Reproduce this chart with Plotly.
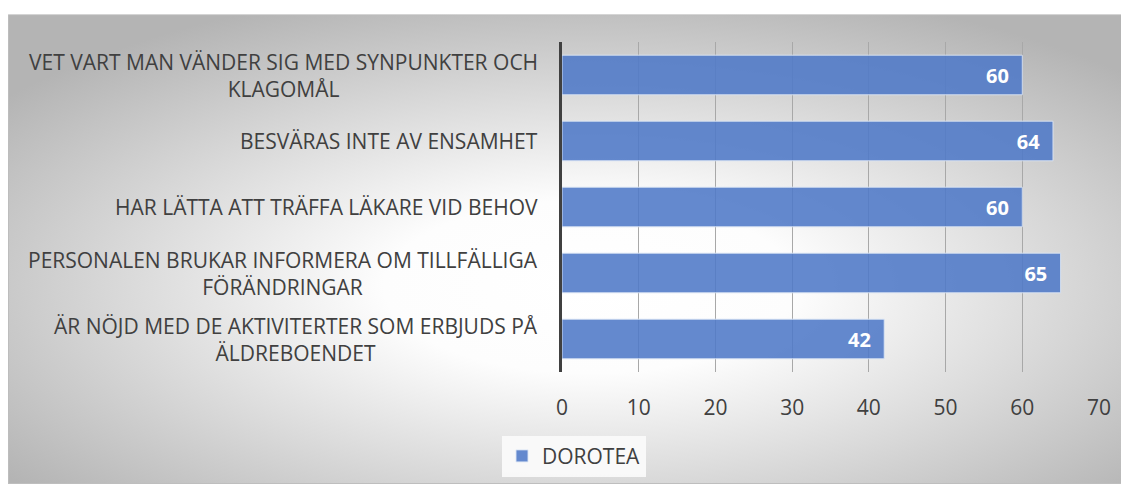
import base64
import plotly.graph_objects as go

categories = [
    "VET VART MAN VÄNDER SIG MED SYNPUNKTER OCH<br>KLAGOMÅL",
    "BESVÄRAS INTE AV ENSAMHET",
    "HAR LÄTTA ATT TRÄFFA LÄKARE VID BEHOV",
    "PERSONALEN BRUKAR INFORMERA OM TILLFÄLLIGA<br>FÖRÄNDRINGAR",
    "ÄR NÖJD MED DE AKTIVITERTER SOM ERBJUDS PÅ<br>ÄLDREBOENDET",
]
values = [60, 64, 60, 65, 42]
series_name = "DOROTEA"
x_ticks = [0, 10, 20, 30, 40, 50, 60, 70]

# page body has an 8px margin; figure is sized so it fits the window
W, H = 1121, 481
L, R, T, B = 554, 30, 34, 114
pw, ph = W - L - R, H - T - B

FONT = "Open Sans"
TXT = "#404040"

svg = (
    '<svg xmlns="http://www.w3.org/2000/svg" width="1120" height="474" '
    'viewBox="0 0 1120 474" preserveAspectRatio="none">'
    '<defs><radialGradient id="g" cx="0.52" cy="0.58" r="0.66">'
    '<stop offset="0" stop-color="#ffffff"/>'
    '<stop offset="0.28" stop-color="#fdfdfd"/>'
    '<stop offset="1" stop-color="#b4b4b4"/>'
    '</radialGradient></defs>'
    '<rect x="0.5" y="0.5" width="1119" height="473" fill="url(#g)" '
    'stroke="#bdbdbd" stroke-width="1"/></svg>'
)
src = "data:image/svg+xml;base64," + base64.b64encode(svg.encode()).decode()

fig = go.Figure()
fig.add_trace(go.Bar(
    y=categories,
    x=values,
    orientation="h",
    name=series_name,
    marker=dict(color="rgba(78,121,199,0.88)",
                line=dict(color="rgba(220,230,245,0.9)", width=1)),
    texttemplate="%{x}\u00a0\u00a0",
    textposition="inside",
    insidetextanchor="end",
    textfont=dict(family=FONT, size=20, color="white", weight="bold"),
    cliponaxis=False,
))

# category labels as centered multi-line annotations
for c in categories:
    fig.add_annotation(
        x=(532 - L) / pw, xref="paper", y=c, yref="y",
        text=c, showarrow=False, xanchor="right", align="center",
        font=dict(family=FONT, size=21, color=TXT),
    )

fig.add_layout_image(
    source=src, xref="paper", yref="paper",
    x=(0 - L) / pw, y=(H - B - 6) / ph,
    sizex=1120 / pw, sizey=474 / ph,
    xanchor="left", yanchor="top", sizing="stretch", layer="below",
)

fig.update_layout(
    width=W, height=H,
    margin=dict(l=L, r=R, t=T, b=B, pad=0),
    paper_bgcolor="white",
    plot_bgcolor="rgba(0,0,0,0)",
    bargap=0.4,
    showlegend=True,
    legend=dict(
        orientation="h", x=(566 - L) / pw, xanchor="center",
        y=(H - B - 452) / ph, yanchor="middle",
        bgcolor="rgba(250,250,250,0.95)",
        font=dict(family=FONT, size=21, color=TXT),
        itemwidth=30,
    ),
    xaxis=dict(
        range=[0, 70], tickvals=x_ticks, showgrid=True,
        gridcolor="#a8a8a8", gridwidth=1, zeroline=False,
        showline=False, ticks="", ticklabelstandoff=21,
        tickfont=dict(family=FONT, size=21, color=TXT),
    ),
    yaxis=dict(
        categoryorder="array", categoryarray=categories,
        autorange="reversed", showticklabels=False,
        showline=True, linecolor="#404040", linewidth=3,
        showgrid=False, zeroline=False, ticks="",
    ),
)

fig.write_html("out.html")
